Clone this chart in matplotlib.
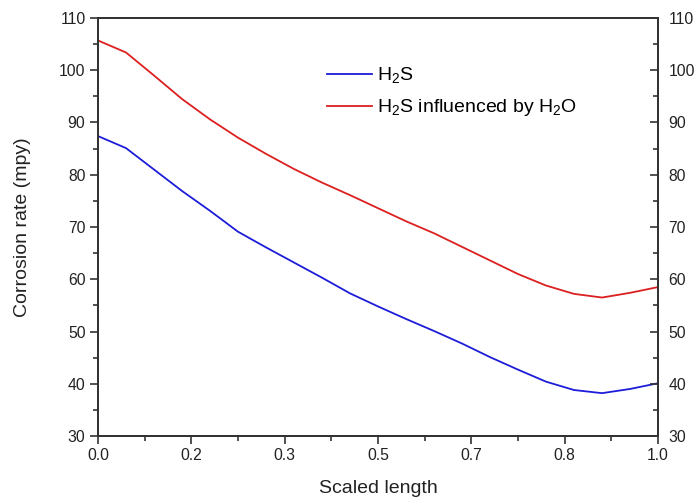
import numpy as np
import matplotlib
matplotlib.use("Agg")
import matplotlib.pyplot as plt
from matplotlib.ticker import FixedLocator, MultipleLocator, FormatStrFormatter

# ==========================================
# DATA
# ==========================================

scaled_length = [0.00, 0.05, 0.10, 0.15, 0.20, 0.25, 0.30, 0.35, 0.40, 0.45,
                 0.50, 0.55, 0.60, 0.65, 0.70, 0.75, 0.80, 0.85, 0.90, 0.95, 1.00]

rate_h2s = [87.4, 85.1, 81.0, 76.9, 73.1, 69.1, 66.1, 63.2, 60.3, 57.3,
            54.8, 52.4, 50.1, 47.7, 45.1, 42.7, 40.4, 38.8, 38.2, 39.0, 40.1]

rate_h2s_h2o = [105.7, 103.4, 99.0, 94.5, 90.6, 87.1, 84.0, 81.1, 78.5, 76.1,
                73.6, 71.1, 68.8, 66.2, 63.6, 61.0, 58.8, 57.2, 56.5, 57.4, 58.5]

series_labels = [r"H$_\mathregular{2}$S",
                 r"H$_\mathregular{2}$S influenced by H$_\mathregular{2}$O"]

x_major = [i / 6 for i in range(7)]

# ==========================================
# STYLE
# ==========================================

plt.rcParams["font.family"] = ["Liberation Sans", "DejaVu Sans"]
plt.rcParams["mathtext.fontset"] = "custom"
plt.rcParams["mathtext.rm"] = "Liberation Sans"

axis_color = "#333333"

fig = plt.figure(figsize=(6.94, 4.99), dpi=100)
ax = fig.add_axes([98 / 694, 1 - 436 / 499, 560 / 694, 418 / 499])

ax.plot(scaled_length, rate_h2s, color="#1c1cd9", linewidth=1.3, label=series_labels[0])
ax.plot(scaled_length, rate_h2s_h2o, color="#dc1f1f", linewidth=1.3, label=series_labels[1])

ax.set_xlim(0, 1)
ax.set_ylim(30, 110)

ax.xaxis.set_major_locator(FixedLocator(x_major))
ax.xaxis.set_minor_locator(FixedLocator([v + 1 / 12 for v in x_major[:-1]]))
ax.xaxis.set_major_formatter(FormatStrFormatter("%.1f"))
ax.yaxis.set_major_locator(MultipleLocator(10))
ax.yaxis.set_minor_locator(MultipleLocator(5))

# right-hand copy of the y axis (ticks point inward there)
ax2 = ax.twinx()
ax2.set_ylim(30, 110)
ax2.yaxis.set_major_locator(MultipleLocator(10))
ax2.yaxis.set_minor_locator(MultipleLocator(5))

for a in (ax, ax2):
    for sp in a.spines.values():
        sp.set_color(axis_color)
        sp.set_linewidth(1.4)
    a.tick_params(which="major", direction="out", length=6, width=1.2,
                  color=axis_color, labelsize=11.3, labelcolor="#222222", pad=3)
    a.tick_params(which="minor", direction="out", length=3.5, width=1.2,
                  color=axis_color)

ax2.tick_params(which="both", direction="in")
ax2.tick_params(which="major", pad=7.5)
ax.tick_params(top=False, right=False, which="both")

ax.set_xlabel("Scaled length", fontsize=14, labelpad=12, color="#222222")
ax.set_ylabel("Corrosion rate (mpy)", fontsize=14, labelpad=20, color="#222222")

ax.legend(loc="upper left", bbox_to_anchor=(0.395, 0.905), frameon=False,
          fontsize=14, handlelength=2.3, handletextpad=0.25, labelspacing=0.6,
          borderaxespad=0)

fig.savefig("out.png", dpi=100)
